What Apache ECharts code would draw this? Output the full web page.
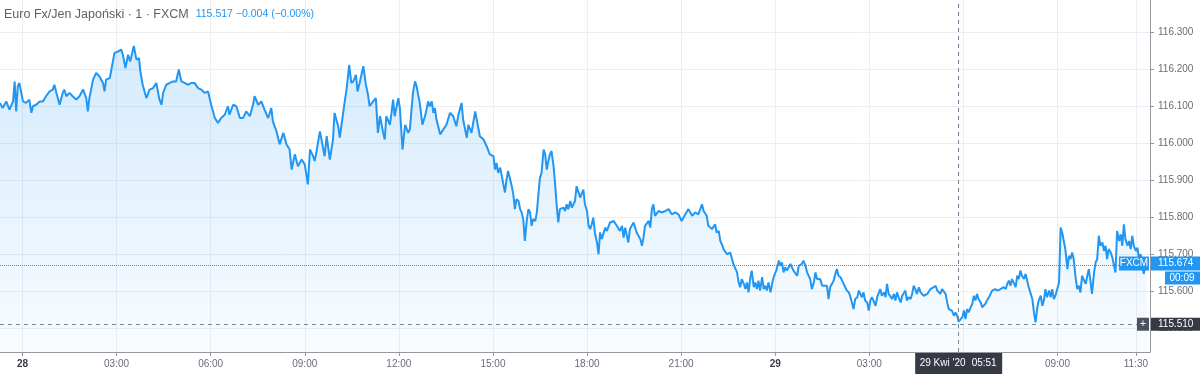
<!DOCTYPE html>
<html><head><meta charset="utf-8">
<script src="https://cdn.jsdelivr.net/npm/echarts@6/dist/echarts.min.js"></script>
<style>html,body{margin:0;padding:0;background:#fff}#c{width:1200px;height:374px}</style>
</head><body><div id="c"></div>
<script>
// minutes since 28 Apr 2020 00:00
const times = [
-43,-38,-31,-25,-18,-15,-12,-9,-6,-3,
1,7,13,17,20,26,33,39,45,52,
58,61,65,71,77,80,84,90,96,103,
109,116,122,125,128,135,141,144,147,154,
157,160,167,173,176,183,189,192,197,202,
206,213,218,223,225,230,237,243,250,256,
262,266,269,275,282,288,294,299,304,310,
317,323,329,336,342,349,355,361,368,374,
380,387,393,396,403,409,416,
422,428,435,441,444,451,457,463,470,476,
479,486,492,499,502,505,511,515,521,527,
534,540,543,546,550,556,559,562,569,572,
578,582,588,594,597,604,607,610,617,620,
625,629,633,638,641,645,652,657,661,664,
671,676,680,684,690,693,696,703,706,709,
712,719,722,727,732,738,741,747,751,754,
757,760,765,770,773,776,779,783,786,789,
792,799,805,811,818,824,830,834,840,843,
850,853,859,866,869,875,882,888,894,
901,904,907,910,914,917,920,923,926,929,
933,936,939,942,945,949,952,955,958,961,
965,968,971,974,977,981,984,987,990,993,
997,1000,1003,1006,1009,1012,1016,1019,1022,1025,
1028,1035,1038,1041,1044,1048,1051,1054,1057,1060,
1064,1067,1073,1076,1080,1083,1086,1089,1092,1095,
1099,1102,1105,1108,1115,1118,1124,1131,1134,1137,
1143,1147,1150,1153,1159,1162,1169,1175,1182,1185,
1188,1191,1198,1201,1204,1207,1210,1217,1223,1230,
1236,1242,1249,1255,1258,1261,1268,1274,1281,1287,
1293,1300,1303,1309,1312,1319,1325,1328,1332,1335,
1338,1341,1348,1354,
1360,1367,1370,1373,1376,1380,1383,1386,1389,1392,
1395,1399,1402,1405,1408,1411,1415,1418,1421,1424,
1427,1431,1434,1437,1440,1443,1447,1450,1453,1456,
1459,1462,1466,1469,1472,1475,1478,1482,1485,1488,
1491,1494,1498,1501,1507,1510,1514,1517,1520,1523,
1526,1530,1533,1539,1542,1545,1552,1555,1558,1561,
1565,1568,1571,1574,1577,1581,1584,1587,1590,1593,
1597,1600,1603,1606,1609,1612,1616,1619,1622,1625,
1628,1632,1635,1638,1641,1644,1648,1651,1654,1657,
1660,1664,1667,1670,1673,1676,1680,1683,1686,1689,
1692,1695,1699,1702,1705,1708,1711,1715,1718,1721,
1724,1727,1731,1734,1737,1740,1743,1747,1750,1753,
1756,1759,1762,1766,1769,1772,1775,1778,1782,1785,
1788,1791,1794,
1798,1801,1804,1807,1810,1814,1817,1820,1823,1826,
1829,1833,1836,1839,1842,1845,1849,1852,1855,1858,
1861,1865,1868,1871,1874,1877,1881,1884,1887,1890,
1893,1896,1900,1903,1906,1909,1912,1916,1919,1922,
1925,1928,1932,1935,1938,1941,1944,1948,1951,1954,
1957,1960,1964,1967,1970,1973,1976,1979,1983,1986,
1989,1992,1995,1999,2002,2005,2008,2011,2015,2018,
2021,2024,2027,2031,2034,2037,2040,2043,2046,2050,
2053,2056,2059,2062,2066,2069,2072,2075,2078,2082,
2085,2088,2091,2094,2098,2101,2104,2107,2110,2114,
2117,2120,2123,2126,2130,2133,2136,2139,2142,2145,
2149,2152
];
const prices = [
116.108,116.094,116.112,116.090,116.112,116.166,116.085,116.153,116.162,116.166,
116.112,116.108,116.117,116.081,116.099,116.103,116.112,116.112,116.126,116.139,
116.144,116.157,116.135,116.103,116.135,116.144,116.126,116.135,116.126,116.117,
116.126,116.144,116.121,116.085,116.121,116.171,116.189,116.193,116.180,116.162,
116.139,116.171,116.175,116.220,116.243,116.247,116.252,116.238,116.202,116.238,
116.220,116.262,116.225,116.229,116.198,116.157,116.121,116.144,116.148,116.162,
116.117,116.103,116.135,116.157,116.162,116.166,116.166,116.198,116.166,116.162,
116.157,116.162,116.162,116.148,116.144,116.135,116.139,116.103,116.067,116.054,
116.067,116.076,116.099,116.076,116.103,116.099,116.067,
116.067,116.085,116.072,116.103,116.126,116.103,116.112,116.090,116.067,116.094,
116.058,116.031,115.996,116.027,116.031,115.996,115.982,115.928,115.969,115.937,
115.955,115.942,115.915,115.888,115.982,115.964,115.951,115.973,116.031,116.009,
115.964,116.018,115.955,116.009,116.081,116.045,116.014,116.045,116.117,116.144,
116.211,116.162,116.166,116.184,116.139,116.162,116.207,116.157,116.130,116.099,
116.112,116.121,116.027,116.072,116.027,116.009,116.072,116.049,116.081,116.117,
116.072,116.121,116.094,115.982,116.049,116.027,116.036,116.135,116.166,116.153,
116.130,116.108,116.049,116.072,116.090,116.112,116.099,116.112,116.081,116.094,
116.063,116.023,116.036,116.049,116.081,116.072,116.045,116.076,116.108,116.063,
116.014,116.049,116.027,116.085,116.063,116.018,116.009,115.991,115.969,
115.964,115.928,115.946,115.919,115.933,115.910,115.888,115.866,115.901,115.924,
115.901,115.883,115.861,115.821,115.848,115.843,115.821,115.812,115.794,115.735,
115.794,115.821,115.812,115.776,115.794,115.789,115.812,115.861,115.906,115.919,
115.982,115.969,115.928,115.951,115.969,115.978,115.937,115.888,115.830,115.785,
115.821,115.825,115.816,115.834,115.821,115.843,115.825,115.821,115.843,115.883,
115.865,115.852,115.874,115.834,115.816,115.776,115.767,115.780,115.798,115.758,
115.731,115.699,115.758,115.740,115.771,115.762,115.785,115.789,115.785,115.776,
115.762,115.776,115.744,115.771,115.731,115.767,115.785,115.758,115.740,115.722,
115.744,115.776,115.789,115.771,115.821,115.834,115.803,115.816,115.812,115.816,
115.821,115.807,115.812,115.807,115.812,115.789,115.807,115.821,115.803,115.812,
115.807,115.834,115.816,115.803,115.776,115.767,115.780,115.758,115.762,115.735,
115.726,115.713,115.699,115.704,
115.673,115.650,115.623,115.610,115.632,115.619,115.605,115.623,115.596,115.632,
115.655,115.610,115.623,115.605,115.628,115.601,115.637,115.605,115.614,115.601,
115.623,115.596,115.619,115.637,115.632,115.659,115.682,115.668,115.677,115.650,
115.664,115.655,115.664,115.673,115.677,115.655,115.659,115.641,115.668,115.664,
115.673,115.682,115.668,115.650,115.632,115.605,115.623,115.650,115.632,115.628,
115.632,115.614,115.610,115.614,115.578,115.610,115.628,115.646,115.659,115.641,
115.637,115.628,115.623,115.610,115.601,115.596,115.583,115.583,115.551,115.578,
115.583,115.601,115.605,115.583,115.596,115.574,115.569,115.547,115.574,115.583,
115.578,115.560,115.583,115.578,115.605,115.587,115.596,115.583,115.619,115.592,
115.596,115.578,115.592,115.574,115.596,115.583,115.569,115.587,115.592,115.601,
115.574,115.583,115.578,115.592,115.614,115.605,115.592,115.610,115.596,115.596,
115.587,115.587,115.592,115.596,115.605,115.601,115.610,115.614,115.601,115.605,
115.592,115.605,115.601,115.592,115.569,115.551,115.556,115.547,115.533,115.542,
115.533,115.517,115.520,
115.529,115.547,115.524,115.551,115.542,115.556,115.565,115.587,115.574,115.592,
115.578,115.569,115.556,115.551,115.565,115.574,115.583,115.592,115.601,115.596,
115.605,115.601,115.596,115.605,115.601,115.610,115.605,115.619,115.628,115.614,
115.632,115.623,115.610,115.641,115.632,115.655,115.641,115.632,115.646,115.641,
115.610,115.596,115.578,115.542,115.515,115.551,115.574,115.587,115.560,115.574,
115.605,115.583,115.601,115.583,115.605,115.578,115.587,115.583,115.623,115.771,
115.758,115.735,115.713,115.659,115.695,115.686,115.704,115.686,115.632,115.605,
115.614,115.596,115.641,115.628,115.619,115.641,115.659,115.628,115.592,115.650,
115.677,115.686,115.749,115.722,115.731,115.708,115.722,115.686,115.713,115.704,
115.690,115.686,115.650,115.762,115.735,115.753,115.722,115.780,115.740,115.722,
115.735,115.713,115.749,115.722,115.708,115.717,115.686,115.699,115.677,115.646,
115.672,115.668
];
const xTickValues = [0,180,360,540,720,900,1080,1260,1440,1620,1800,1980,2130];
const xTickLabels = ['28','03:00','06:00','09:00','12:00','15:00','18:00','21:00','29','03:00','06:00','09:00','11:30'];
const dayLabels = ['28','29'];
const yTickValues = [115.5,115.6,115.7,115.8,115.9,116.0,116.1,116.2,116.3];
const lastPrice = 115.674;
const crossTime = 1791;      // 29 Apr 05:51
const crossPrice = 115.510;
const xMin = -43, xMax = 2157;
const yMin = 115.435, yMax = 116.386;

const data = [];
const n = Math.min(times.length, prices.length);
for (let i = 0; i < n; i++) data.push([times[i], prices[i]]);

const FONT = 'Liberation Sans, Arial, sans-serif';
const chart = echarts.init(document.getElementById('c'), null, {renderer: 'canvas'});
chart.setOption({
  animation: false,
  backgroundColor: '#ffffff',
  textStyle: {fontFamily: FONT},
  title: {
    left: 4, top: 8, padding: 0,
    text: '{a|Euro Fx/Jen Japoński · 1 · FXCM  }{b|115.517 \u22120.004 (\u22120.00%)}',
    textStyle: {
      fontWeight: 'normal',
      rich: {
        a: {fontSize: 12.5, color: '#5d606b', fontWeight: 'normal', fontFamily: FONT},
        b: {fontSize: 10.5, color: '#2196f3', fontWeight: 'normal', fontFamily: FONT}
      }
    }
  },
  grid: {left: 0, right: 50, top: 0, bottom: 22, containLabel: false},
  xAxis: {
    type: 'value', min: xMin, max: xMax,
    axisLine: {show: true, onZero: false, lineStyle: {color: '#9598a1', width: 1}},
    axisTick: {show: true, length: 4, customValues: xTickValues, lineStyle: {color: '#9598a1'}},
    axisLabel: {
      customValues: xTickValues, margin: 7, color: '#6a6d78', fontSize: 10, fontFamily: FONT,
      formatter: function (v) {
        const i = xTickValues.indexOf(v);
        const s = i >= 0 ? xTickLabels[i] : '';
        return dayLabels.indexOf(s) >= 0 ? '{d|' + s + '}' : s;
      },
      rich: {d: {fontWeight: 'bold', color: '#3a3d45', fontSize: 10, fontFamily: FONT}}
    },
    splitLine: {show: true, lineStyle: {color: '#eceef2', width: 1}}
  },
  yAxis: {
    type: 'value', position: 'right', min: yMin, max: yMax,
    axisLine: {show: true, onZero: false, lineStyle: {color: '#9598a1', width: 1}},
    axisTick: {show: true, length: 4, customValues: yTickValues, lineStyle: {color: '#9598a1'}},
    axisLabel: {
      customValues: yTickValues, margin: 8, color: '#6a6d78', fontSize: 10, fontFamily: FONT,
      formatter: function (v) { return Number(v).toFixed(3); }
    },
    splitLine: {show: true, lineStyle: {color: '#eceef2', width: 1}}
  },
  series: [{
    type: 'line', data: data, symbol: 'none', showSymbol: false, smooth: false,
    lineStyle: {color: '#2196f3', width: 2},
    areaStyle: {
      origin: 'start',
      color: new echarts.graphic.LinearGradient(0, 0, 0, 1, [
        {offset: 0, color: 'rgba(33,150,243,0.28)'},
        {offset: 1, color: 'rgba(33,150,243,0.04)'}
      ])
    },
    markLine: {
      silent: true, symbol: 'none', animation: false,
      label: {show: false},
      data: [
        {yAxis: lastPrice, lineStyle: {color: '#2196f3', type: 'dotted', width: 1}},
        {yAxis: crossPrice, lineStyle: {color: '#758696', type: [4, 4], width: 1}},
        {xAxis: crossTime, lineStyle: {color: '#758696', type: [4, 4], width: 1}}
      ]
    }
  }]
});

const px = v => chart.convertToPixel({xAxisIndex: 0}, v);
const py = v => chart.convertToPixel({yAxisIndex: 0}, v);
const xr = px(xMax), yb = py(yMin);
const yl = py(lastPrice), yc = py(crossPrice), xc = px(crossTime);
const tf = '10px ' + FONT;
function box(x, y, w, h, fill) {
  return {type: 'rect', z: 100, silent: true, shape: {x: x, y: y, width: w, height: h}, style: {fill: fill}};
}
function txt(x, y, s, align, font) {
  return {type: 'text', z: 101, silent: true, x: x, y: y,
    style: {text: s, fill: '#ffffff', font: font || tf, align: align, verticalAlign: 'middle',
      textAlign: align, textVerticalAlign: 'middle'}};
}
chart.setOption({
  graphic: [
    box(xr - 31, yl - 7, 30, 14, '#2196f3'),
    txt(xr - 16, yl, 'FXCM', 'center'),
    box(xr + 1, yl - 7, 49, 14, '#2196f3'),
    txt(xr + 8, yl, lastPrice.toFixed(3), 'left'),
    box(xr + 15, yl + 8, 35, 13, '#2196f3'),
    txt(xr + 32, yl + 14.5, '00:09', 'center'),
    box(xr - 13, yc - 6.5, 12, 13, '#4c525e'),
    txt(xr - 7, yc, '+', 'center', '11px ' + FONT),
    box(xr + 1, yc - 6.5, 49, 13, '#363a45'),
    txt(xr + 8, yc, crossPrice.toFixed(3), 'left'),
    box(xc - 43.5, yb + 1, 87, 21, '#363a45'),
    txt(xc - 39, yb + 11.5, "29 Kwi '20", 'left', '10px ' + FONT),
    txt(xc + 38, yb + 11.5, '05:51', 'right', '10px ' + FONT)
  ]
});
</script>
</body></html>
